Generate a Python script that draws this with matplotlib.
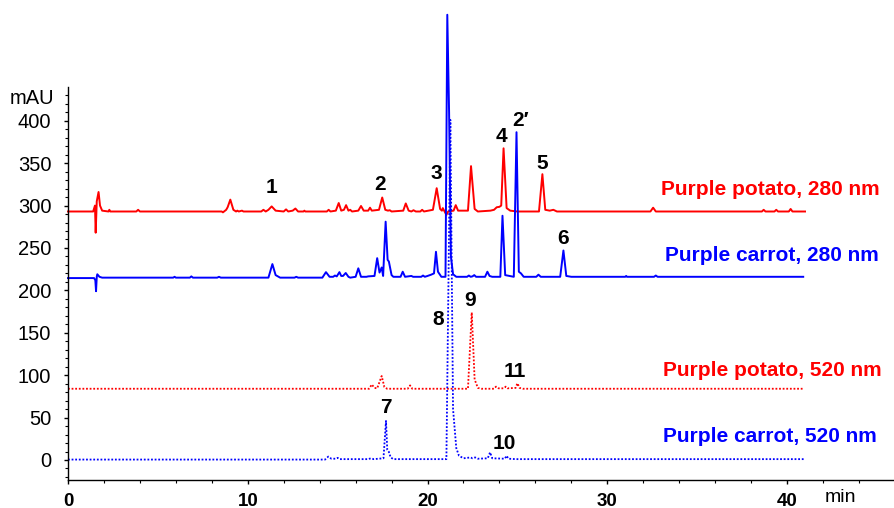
import matplotlib
matplotlib.use("Agg")
import matplotlib.pyplot as plt
from matplotlib.ticker import MultipleLocator

plt.rcParams['font.family'] = ['Liberation Sans', 'DejaVu Sans']

# chromatogram traces: (time in min, signal in mAU)
potato_280 = [
    (0, 293), (1.40, 293), (1.50, 300), (1.54, 268), (1.60, 305), (1.70, 316), (1.78, 300), (1.90, 294),
    (2.25, 293), (2.30, 295), (2.35, 293), (3.80, 293), (3.90, 295), (4.00, 293), (8.55, 293), (8.62, 292),
    (8.80, 295), (8.88, 298), (9.03, 307), (9.20, 295), (9.35, 293), (9.42, 294), (9.50, 293), (9.68, 294),
    (9.76, 293), (10.75, 293), (10.87, 295), (11.0, 293), (11.15, 295), (11.33, 299), (11.55, 294), (12.0, 293),
    (12.13, 295.5), (12.25, 293), (12.5, 294), (12.65, 296.5), (12.8, 293), (13.1, 293), (13.15, 294), (13.2, 293),
    (14.4, 293), (14.5, 295), (14.6, 293), (14.9, 294), (15.06, 303), (15.2, 294), (15.35, 295), (15.47, 300.5),
    (15.6, 294), (15.7, 295), (15.8, 293), (16.15, 294), (16.3, 299.5), (16.45, 294), (16.7, 294), (16.8, 297.5),
    (16.9, 294), (17.3, 295), (17.48, 309.5), (17.65, 295), (17.8, 294), (17.9, 294.5), (18.0, 293), (18.65, 294),
    (18.79, 302.5), (18.95, 294), (19.1, 293), (19.22, 294.5), (19.35, 293), (19.6, 293), (19.7, 295), (19.8, 293),
    (20.3, 295), (20.51, 320.5), (20.7, 296), (20.8, 294), (20.85, 297), (20.95, 293), (21.05, 289), (21.15, 293),
    (21.45, 294), (21.57, 300.5), (21.7, 294), (22.25, 294), (22.42, 346.5), (22.62, 296), (22.8, 293), (23.5, 294),
    (23.7, 295), (23.85, 298), (24.0, 298.5), (24.1, 300), (24.23, 367.5), (24.4, 297), (24.6, 294), (25.0, 293),
    (26.2, 293), (26.39, 337), (26.55, 295), (26.8, 294), (27.0, 295), (27.2, 293), (32.4, 293), (32.55, 297.5),
    (32.7, 293), (38.6, 293), (38.7, 295), (38.8, 293), (39.3, 293), (39.4, 295), (39.5, 293), (40.1, 293),
    (40.2, 296), (40.3, 293), (41.0, 293),
]

carrot_280 = [
    (0, 214.5), (1.45, 214.5), (1.52, 212), (1.56, 199), (1.60, 216), (1.63, 219), (1.75, 216), (1.9, 215),
    (5.85, 215), (5.93, 216), (6.0, 215), (6.78, 215), (6.86, 216.5), (6.95, 215), (8.3, 215), (8.4, 216),
    (8.5, 215), (11.15, 215), (11.37, 231), (11.55, 218), (11.8, 215), (12.6, 215), (12.7, 216), (12.8, 215),
    (14.15, 215), (14.35, 221.5), (14.55, 216), (14.75, 216), (14.85, 217.5), (14.95, 216.5), (15.1, 221.5),
    (15.2, 217), (15.3, 217), (15.45, 220.5), (15.6, 216), (15.7, 215), (16.0, 216), (16.15, 226), (16.3, 216),
    (16.6, 216), (16.7, 216.5), (17.05, 217), (17.2, 238), (17.33, 221), (17.45, 227), (17.53, 217), (17.67, 281),
    (17.78, 236), (17.85, 234), (18.0, 218), (18.1, 216), (18.5, 216), (18.62, 222), (18.75, 216), (19.1, 217),
    (19.2, 216), (19.65, 216), (19.75, 217.5), (19.85, 216), (20.0, 217), (20.2, 218.5), (20.36, 220),
    (20.47, 245.5), (20.58, 222), (20.77, 216), (21.0, 216), (21.1, 525), (21.2, 410), (21.3, 240), (21.42, 219),
    (21.6, 216), (22.2, 216), (22.3, 217.5), (22.4, 216), (22.5, 216.5), (22.6, 218), (22.7, 216), (23.2, 216),
    (23.33, 222), (23.45, 217), (23.6, 216), (24.05, 216), (24.17, 288), (24.32, 218), (24.8, 216), (24.95, 386.5),
    (25.08, 222), (25.2, 220), (25.35, 216), (26.05, 216), (26.17, 218.5), (26.3, 216), (27.38, 216), (27.56, 247),
    (27.72, 217), (28.0, 216), (31.0, 216), (31.05, 217), (31.1, 216), (32.6, 216), (32.7, 217.5), (32.8, 216),
    (40.9, 216),
]

potato_520 = [
    (0, 84), (16.75, 84), (16.9, 89), (17.05, 85), (17.2, 84.5), (17.45, 99), (17.6, 86), (17.75, 84),
    (18.9, 84), (19.03, 88), (19.15, 84), (22.25, 84), (22.46, 174), (22.62, 95), (22.8, 85), (23.0, 84),
    (23.7, 84), (23.81, 86.5), (23.95, 84.5), (24.25, 84.5), (24.35, 86.5), (24.45, 84.5), (24.9, 85),
    (25.0, 90.5), (25.12, 85), (25.3, 84), (40.9, 84),
]

carrot_520 = [
    (0, 0.5), (14.3, 0.5), (14.48, 4), (14.65, 1.5), (14.9, 1.5), (15.0, 2.5), (15.1, 1), (16.7, 1),
    (16.85, 2), (17.0, 1), (17.55, 2), (17.69, 46), (17.76, 12), (17.85, 9.5), (17.95, 3), (18.1, 1),
    (21.05, 1), (21.27, 401), (21.42, 60), (21.6, 14), (21.75, 5), (22.0, 2), (22.4, 3), (22.5, 2),
    (22.65, 3), (22.8, 1.5), (23.35, 2), (23.48, 9), (23.6, 2), (24.3, 1.5), (24.4, 5), (24.5, 1.5),
    (24.9, 1), (41.0, 1),
]

# peak numbers and where they sit
peak_labels = ['1', '2', '3', '4', '2\u2032', '5', '6', '8', '9', '11', '7', '10']
peak_x = [11.33, 17.36, 20.47, 24.12, 25.15, 26.38, 27.55, 20.57, 22.36, 24.85, 17.68, 24.28]
peak_y = [321, 325, 338, 381, 400, 350, 261.5, 166, 187.5, 104, 62, 19.5]

trace_names = ['Purple potato, 280 nm', 'Purple carrot, 280 nm',
               'Purple potato, 520 nm', 'Purple carrot, 520 nm']
name_x = [45.15, 45.1, 45.27, 45.0]
name_y = [318.5, 241.5, 106, 27.5]

fig = plt.figure(figsize=(8.94, 5.08), dpi=100)
ax = fig.add_axes([68 / 894, 28 / 508, 826 / 894, 393 / 508])

red = '#ff0000'
blue = '#0000ff'
styles = [(red, '-', 1.4), (blue, '-', 1.4), (red, (0, (1, 1)), 1.3), (blue, (0, (1, 1)), 1.3)]
for trace, (col, ls, lw) in zip([potato_280, carrot_280, potato_520, carrot_520], styles):
    t = [p[0] for p in trace]
    y = [p[1] for p in trace]
    ax.plot(t, y, color=col, linestyle=ls, lw=lw, clip_on=False)

for lab, x, y in zip(peak_labels, peak_x, peak_y):
    ax.text(x, y, lab, ha='center', va='center', fontsize=15, fontweight='bold', color='black')

for name, x, y, col in zip(trace_names, name_x, name_y, [red, blue, red, blue]):
    ax.text(x, y, name, ha='right', va='center', fontsize=15, fontweight='bold', color=col)

ax.set_xlim(0, 45.95)
ax.set_ylim(-23.6, 439.8)
ax.spines['top'].set_visible(False)
ax.spines['right'].set_visible(False)
ax.spines['left'].set_linewidth(1.0)
ax.spines['bottom'].set_linewidth(1.0)

ax.xaxis.set_major_locator(MultipleLocator(10))
ax.xaxis.set_minor_locator(MultipleLocator(2))
ax.yaxis.set_major_locator(MultipleLocator(50))
ax.yaxis.set_minor_locator(MultipleLocator(10))
ax.set_xticks([0, 10, 20, 30, 40])
ax.set_yticks(range(0, 401, 50))
ax.tick_params(axis='both', which='major', length=3, width=1.0, labelsize=14.5)
ax.tick_params(axis='both', which='minor', length=2.5, width=0.8)
ax.tick_params(axis='x', pad=6, labelsize=13.5)
ax.tick_params(axis='y', pad=9)
for lbl in ax.get_xticklabels():
    lbl.set_fontweight('bold')

fig.text(31.5 / 894, 1 - 99 / 508, 'mAU', ha='center', va='center', fontsize=14.5)
fig.text(840 / 894, 1 - 498 / 508, 'min', ha='center', va='center', fontsize=14)

fig.savefig('out.png', dpi=100)
